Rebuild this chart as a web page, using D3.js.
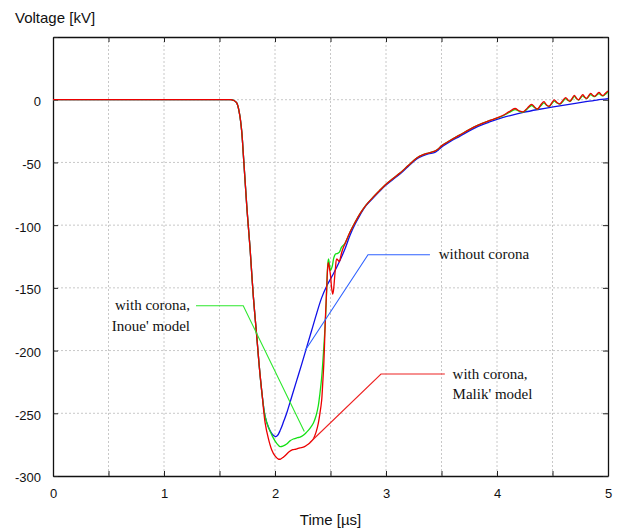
<!DOCTYPE html>
<html>
<head>
<meta charset="utf-8">
<script src="https://cdn.jsdelivr.net/npm/d3@7"></script>
<style>
  body { margin: 0; background: #fff; }
  svg { display: block; }
</style>
</head>
<body>
<svg id="chart" width="626" height="530"></svg>
<script>
// time [us], voltage [kV]

// common wave front (all three curves)
const front = [
  [0, 0], [1.0, 0], [1.5, 0], [1.58, 0], [1.6, 0], [1.615, -0.2], [1.63, -0.6], [1.655, -2.5],
  [1.68, -11], [1.70, -25], [1.715, -44], [1.73, -64], [1.75, -90], [1.775, -118], [1.79, -138],
  [1.805, -157], [1.82, -173], [1.835, -188], [1.85, -204], [1.865, -219], [1.885, -236]
];

const blueRest = [
  [1.91, -252], [1.94, -261], [1.97, -266], [2.0, -268.5], [2.02, -268], [2.05, -263],
  [2.08, -256], [2.105, -250], [2.15, -237], [2.195, -224], [2.24, -211], [2.285, -197.5],
  [2.33, -184], [2.375, -170.5], [2.42, -158], [2.466, -148.5], [2.525, -139], [2.586, -128],
  [2.63, -119], [2.676, -108], [2.72, -99.5], [2.766, -92], [2.82, -84.5], [2.886, -78.2],
  [2.94, -73.2], [2.99, -68.8], [3.06, -63.8], [3.126, -59.2], [3.2, -53.2], [3.277, -47.3],
  [3.33, -44.8], [3.38, -43.2], [3.44, -42], [3.47, -40.2], [3.50, -37.8], [3.58, -33.2],
  [3.667, -29], [3.75, -24.8], [3.83, -21.3], [3.92, -18.2], [4.0, -15.6], [4.12, -12.6],
  [4.237, -10.1], [4.37, -7.8], [4.507, -5.7], [4.65, -3.7], [4.8, -1.6], [4.9, -0.3], [5.0, 0.8]
];

const greenDip = [
  [1.91, -252], [1.94, -261], [1.97, -267], [2.0, -272], [2.045, -276.5], [2.075, -276],
  [2.105, -274.5], [2.135, -272], [2.165, -270.5], [2.2, -269.5], [2.225, -269], [2.255, -267.5],
  [2.285, -265], [2.315, -262], [2.345, -258], [2.37, -252], [2.39, -244], [2.405, -234],
  [2.42, -222], [2.44, -197], [2.457, -171], [2.466, -150], [2.475, -132], [2.482, -127],
  [2.49, -131], [2.50, -136], [2.515, -133], [2.53, -126], [2.545, -123], [2.565, -122.5],
  [2.58, -121.5], [2.60, -117.5], [2.63, -114.5]
];

const redDip = [
  [1.91, -257], [1.94, -270], [1.97, -279], [2.0, -284], [2.03, -286.5], [2.05, -286.5],
  [2.075, -285], [2.10, -283], [2.13, -280.5], [2.16, -279], [2.19, -278.5], [2.225, -277.5],
  [2.255, -277], [2.285, -275.5], [2.315, -273.5], [2.345, -270.5], [2.37, -265], [2.39, -258],
  [2.405, -250], [2.42, -240], [2.43, -226], [2.44, -210], [2.447, -193], [2.453, -176],
  [2.46, -162], [2.466, -150], [2.473, -136], [2.48, -130], [2.49, -134], [2.50, -140],
  [2.51, -150], [2.52, -155], [2.527, -152], [2.535, -144], [2.545, -134], [2.556, -127],
  [2.568, -128], [2.58, -129], [2.59, -126], [2.60, -122], [2.615, -118], [2.63, -115]
];

// red and green share the tail until the ringing starts
const coronaTail = [
  [2.676, -105.5], [2.72, -98], [2.766, -90.8], [2.82, -84], [2.886, -77.5], [2.94, -72.6],
  [2.99, -68.2], [3.06, -63], [3.126, -58.5], [3.2, -52.5], [3.277, -46.5], [3.33, -44],
  [3.38, -42.5], [3.44, -41], [3.47, -39.3], [3.50, -36.8], [3.58, -32.3], [3.667, -28],
  [3.75, -23.8], [3.83, -20.2], [3.92, -17]
];

const redRing = [
  [4.0, -14.5], [4.06, -12.2], [4.11, -9.5], [4.162, -7], [4.20, -8.8], [4.237, -9.6],
  [4.275, -6.5], [4.312, -3.7], [4.34, -6], [4.365, -7.4], [4.395, -4], [4.423, -1.6],
  [4.445, -4], [4.47, -5.2], [4.495, -2.3], [4.516, -0.2], [4.54, -2.2], [4.567, -3.3],
  [4.595, -0.5], [4.619, 1.7], [4.64, -0.2], [4.658, -1.2], [4.68, 1.5], [4.697, 3.5],
  [4.716, 1.2], [4.735, -0.1], [4.755, 2.2], [4.772, 4], [4.79, 2.2], [4.808, 1.1],
  [4.826, 3.2], [4.844, 5], [4.862, 3.6], [4.88, 2.7], [4.90, 4.4], [4.919, 5.8],
  [4.937, 4.2], [4.955, 3.3], [4.975, 5], [4.994, 6.6], [5.0, 6.8]
];

const greenRing = [
  [4.0, -14.7], [4.06, -12.6], [4.11, -10.2], [4.162, -7.9], [4.20, -9.2], [4.237, -9.8],
  [4.275, -7.2], [4.312, -4.6], [4.34, -6.4], [4.365, -7.6], [4.395, -4.8], [4.423, -2.6],
  [4.445, -4.4], [4.47, -5.4], [4.495, -3], [4.516, -1.1], [4.54, -2.6], [4.567, -3.5],
  [4.595, -1.2], [4.619, 0.8], [4.64, -0.6], [4.658, -1.4], [4.68, 0.8], [4.697, 2.6],
  [4.716, 0.8], [4.735, -0.3], [4.755, 1.5], [4.772, 3.1], [4.79, 1.8], [4.808, 0.9],
  [4.826, 2.6], [4.844, 4.1], [4.862, 3.1], [4.88, 2.4], [4.90, 3.8], [4.919, 4.9],
  [4.937, 3.7], [4.955, 3.0], [4.975, 4.3], [4.994, 5.6], [5.0, 5.8]
];

const xTicks = [0, 0.5, 1, 1.5, 2, 2.5, 3, 3.5, 4, 4.5, 5];
const yTicks = [-300, -250, -200, -150, -100, -50, 0, 50];

const series = [
  { name: 'without corona', color: '#1010e8', values: front.concat(blueRest) },
  { name: 'Inoue', color: '#14e014', values: front.concat(greenDip, coronaTail, greenRing) },
  { name: 'Malik', color: '#ec0000', values: front.concat(redDip, coronaTail, redRing) }
];

// callouts: leader polyline in data units, text anchor and lines
const notes = [
  { color: '#2f62ff', path: [[2.27, -200.2], [2.838, -123.6], [3.396, -123.6]],
    at: [3.475, -123.6], anchor: 'start', lines: ['without corona'] },
  { color: '#2ee82e', path: [[1.288, -164.3], [1.714, -164.3], [2.264, -264.5]],
    at: [1.234, -164.3], anchor: 'end', lines: ['with corona,', "Inoue' model"] },
  { color: '#ee2222', path: [[2.315, -273.3], [2.955, -218.7], [3.53, -218.7]],
    at: [3.6, -218.7], anchor: 'start', lines: ['with corona,', "Malik' model"] }
];

const width = 626, height = 530;
const margin = { top: 37, right: 18, bottom: 54, left: 53 };

const svg = d3.select('#chart');

const x = d3.scaleLinear().domain([0, 5]).range([margin.left, width - margin.right]);
const y = d3.scaleLinear().domain([-300, 50]).range([height - margin.bottom, margin.top]);

// grid
svg.append('g')
  .selectAll('line')
  .data(xTicks.slice(1, -1))
  .join('line')
  .attr('x1', d => x(d)).attr('x2', d => x(d))
  .attr('y1', y(50)).attr('y2', y(-300))
  .attr('stroke', '#c8c8c8').attr('stroke-dasharray', '2,2');

svg.append('g')
  .selectAll('line')
  .data(yTicks.slice(1, -1))
  .join('line')
  .attr('x1', x(0)).attr('x2', x(5))
  .attr('y1', d => y(d)).attr('y2', d => y(d))
  .attr('stroke', '#c8c8c8').attr('stroke-dasharray', '2,2');

// axes
const fontSans = 'Liberation Sans, Arial, sans-serif';

svg.append('g')
  .attr('transform', `translate(0,${y(-300)})`)
  .call(d3.axisBottom(x).tickValues(xTicks).tickSizeInner(-5).tickSizeOuter(0).tickPadding(13)
    .tickFormat(d => Number.isInteger(d) ? d : ''));

svg.append('g')
  .attr('transform', `translate(0,${y(50)})`)
  .call(d3.axisTop(x).tickValues(xTicks).tickSizeInner(-5).tickSizeOuter(0).tickFormat(''));

svg.append('g')
  .attr('transform', `translate(${x(0)},0)`)
  .call(d3.axisLeft(y).tickValues(yTicks).tickSizeInner(-5).tickSizeOuter(0).tickPadding(12)
    .tickFormat(d => d === 50 ? '' : d));

svg.append('g')
  .attr('transform', `translate(${x(5)},0)`)
  .call(d3.axisRight(y).tickValues(yTicks).tickSizeInner(-5).tickSizeOuter(0).tickFormat(''));

svg.selectAll('.domain').attr('stroke', '#111').attr('stroke-width', 1.3);
svg.selectAll('.tick line').attr('stroke', '#222');
svg.selectAll('.tick text')
  .attr('font-family', fontSans).attr('font-size', 13).attr('fill', '#111')
  .attr('dy', function () { return d3.select(this).attr('dy') === '0.32em' ? '0.45em' : '0.71em'; });

// curves
const line = d3.line()
  .x(d => x(d[0]))
  .y(d => y(d[1]))
  .curve(d3.curveCatmullRom.alpha(0.5));

svg.append('g')
  .selectAll('path')
  .data(series)
  .join('path')
  .attr('d', d => line(d.values))
  .attr('fill', 'none')
  .attr('stroke', d => d.color)
  .attr('stroke-width', 1.3)
  .attr('stroke-linejoin', 'round');

// callouts
const leader = d3.line().x(d => x(d[0])).y(d => y(d[1]));

const note = svg.append('g').selectAll('g').data(notes).join('g');

note.append('path')
  .attr('d', d => leader(d.path))
  .attr('fill', 'none')
  .attr('stroke', d => d.color)
  .attr('stroke-width', 1.1);

note.append('text')
  .attr('x', d => x(d.at[0]))
  .attr('y', d => y(d.at[1]))
  .attr('text-anchor', d => d.anchor)
  .attr('font-family', 'Liberation Serif, Times New Roman, serif')
  .attr('font-size', 15)
  .attr('fill', '#111')
  .selectAll('tspan')
  .data(d => d.lines.map((s, i) => ({ s, i, x: x(d.at[0]) })))
  .join('tspan')
  .attr('x', d => d.x)
  .attr('dy', d => d.i === 0 ? '0.3em' : '1.35em')
  .text(d => d.s);

// axis titles
svg.append('text')
  .attr('x', 15).attr('y', 23)
  .attr('font-family', fontSans).attr('font-size', 15).attr('fill', '#111')
  .text('Voltage [kV]');

svg.append('text')
  .attr('x', (x(0) + x(5)) / 2).attr('y', 525)
  .attr('text-anchor', 'middle')
  .attr('font-family', fontSans).attr('font-size', 15).attr('fill', '#111')
  .text('Time [µs]');
</script>
</body>
</html>
